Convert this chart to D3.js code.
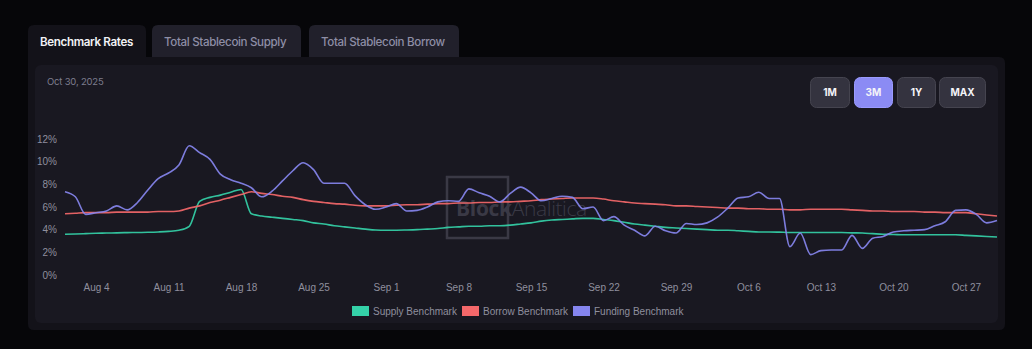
<!DOCTYPE html>
<html>
<head>
<meta charset="utf-8">
<script src="https://cdn.jsdelivr.net/npm/d3@7/dist/d3.min.js"></script>
<style>
  html, body { margin: 0; padding: 0; background: #060609; }
  svg { display: block; }
</style>
</head>
<body>
<svg id="chart" width="1032" height="349"></svg>
<script>
// Daily benchmark rates, Aug 1 – Oct 30, 2025 (percent)
const startDate = new Date(2025, 7, 1);

const supplyBenchmark = [
  3.60, 3.62, 3.65, 3.68, 3.70, 3.72, 3.74, 3.75, 3.77, 3.80,
  3.85, 3.95, 4.30, 6.50, 6.85, 7.05, 7.30, 7.55, 5.40, 5.20,
  5.10, 5.00, 4.90, 4.80, 4.60, 4.50, 4.35, 4.25, 4.15, 4.05,
  3.97, 3.95, 3.95, 3.97, 4.00, 4.05, 4.10, 4.20, 4.25, 4.30,
  4.30, 4.35, 4.35, 4.40, 4.50, 4.60, 4.75, 4.85, 4.90, 4.95,
  5.00, 5.00, 4.90, 4.80, 4.65, 4.50, 4.40, 4.30, 4.20, 4.15,
  4.10, 4.05, 4.00, 3.95, 3.95, 3.90, 3.85, 3.80, 3.80, 3.78,
  3.75, 3.75, 3.75, 3.75, 3.75, 3.75, 3.72, 3.70, 3.65, 3.60,
  3.58, 3.55, 3.55, 3.55, 3.55, 3.55, 3.55, 3.50, 3.45, 3.40,
  3.35
];

const borrowBenchmark = [
  5.40, 5.45, 5.50, 5.50, 5.50, 5.55, 5.55, 5.55, 5.55, 5.60,
  5.60, 5.65, 5.90, 6.10, 6.40, 6.60, 6.85, 7.10, 7.35, 7.20,
  7.10, 6.95, 6.85, 6.65, 6.50, 6.40, 6.30, 6.25, 6.15, 6.10,
  6.10, 6.10, 6.15, 6.20, 6.20, 6.25, 6.30, 6.30, 6.35, 6.35,
  6.40, 6.40, 6.45, 6.45, 6.50, 6.55, 6.65, 6.70, 6.75, 6.80,
  6.80, 6.80, 6.70, 6.55, 6.45, 6.35, 6.30, 6.25, 6.20, 6.10,
  6.10, 6.05, 6.00, 5.95, 5.90, 5.90, 5.85, 5.85, 5.80, 5.80,
  5.75, 5.75, 5.80, 5.80, 5.80, 5.80, 5.75, 5.70, 5.65, 5.65,
  5.60, 5.60, 5.60, 5.55, 5.55, 5.50, 5.50, 5.50, 5.40, 5.30,
  5.20
];

const fundingBenchmark = [
  7.35, 6.90, 5.35, 5.50, 5.65, 6.10, 5.75, 6.40, 7.50, 8.50,
  9.00, 9.70, 11.40, 10.80, 10.20, 8.90, 8.40, 8.10, 7.70, 6.90,
  7.40, 8.30, 9.20, 9.90, 9.30, 8.10, 8.10, 8.10, 7.00, 6.20,
  5.80, 6.00, 6.30, 5.65, 5.70, 6.00, 6.45, 6.55, 6.50, 7.60,
  7.25, 6.95, 6.45, 7.20, 7.75, 7.25, 6.55, 6.75, 6.95, 6.85,
  5.85, 6.00, 4.80, 5.15, 4.40, 3.95, 3.45, 4.30, 3.90, 3.70,
  4.55, 4.45, 4.60, 5.10, 5.90, 6.80, 6.90, 7.30, 6.75, 6.75,
  2.50, 3.70, 1.80, 2.15, 2.20, 2.20, 3.50, 2.35, 3.25, 3.40,
  3.80, 3.90, 3.95, 4.00, 4.35, 4.70, 5.70, 5.75, 5.35, 4.60,
  4.80
];

const seriesNames = ["Supply Benchmark", "Borrow Benchmark", "Funding Benchmark"];
const seriesColors = ["#34d1a8", "#f4686a", "#8585ee"];
const yTicks = [0, 2, 4, 6, 8, 10, 12];
const tabLabels = ["Benchmark Rates", "Total Stablecoin Supply", "Total Stablecoin Borrow"];
const rangeButtons = ["1M", "3M", "1Y", "MAX"];
const activeRange = "3M";
const headerDate = "Oct 30, 2025";

const dayMs = 24 * 3600 * 1000;
const dates = supplyBenchmark.map((_, i) => new Date(startDate.getTime() + i * dayMs));
const series = [supplyBenchmark, borrowBenchmark, fundingBenchmark];

const svg = d3.select("#chart");
const uiFont = "Inter, 'Open Sans', sans-serif";
const axisFont = "'Liberation Sans', Arial, sans-serif";

// ---- tabs ----
const tabX = [28, 152, 309];
const tabW = [118, 149, 150];
tabLabels.forEach((t, i) => {
  const active = i === 0;
  svg.append("path")
    .attr("d", `M${tabX[i]},58 V${31} Q${tabX[i]},25 ${tabX[i] + 6},25 H${tabX[i] + tabW[i] - 6} Q${tabX[i] + tabW[i]},25 ${tabX[i] + tabW[i]},31 V58 Z`)
    .attr("fill", active ? "#131219" : "#21202b");
  svg.append("text")
    .attr("x", tabX[i] + 12).attr("y", 46)
    .attr("font-family", uiFont)
    .attr("font-size", 11.6)
    .attr("font-weight", active ? 600 : 500)
    .attr("letter-spacing", -0.35)
    .attr("fill", active ? "#f2f2f6" : "#8e8ea6")
    .text(t);
});

// ---- panel and card ----
svg.append("path")
  .attr("d", "M28,57 H999 Q1005,57 1005,63 V324 Q1005,330 999,330 H34 Q28,330 28,324 Z")
  .attr("fill", "#131219");
svg.append("rect")
  .attr("x", 35).attr("y", 65).attr("width", 963).attr("height", 258)
  .attr("rx", 6)
  .attr("fill", "#191821");

svg.append("text")
  .attr("x", 47).attr("y", 85)
  .attr("font-family", uiFont).attr("font-size", 9.5)
  .attr("fill", "#7d7d8e")
  .attr("letter-spacing", -0.2)
  .text(headerDate);

// ---- range buttons ----
const btnX = [810, 854, 897, 939];
const btnW = [40, 39, 39, 47];
rangeButtons.forEach((b, i) => {
  const active = b === activeRange;
  svg.append("rect")
    .attr("x", btnX[i] + 0.5).attr("y", 77.5)
    .attr("width", btnW[i] - 1).attr("height", 30)
    .attr("rx", 6)
    .attr("fill", active ? "#8b8bf4" : "#34333f")
    .attr("stroke", active ? "#9b9bff" : "#45444f");
  svg.append("text")
    .attr("x", btnX[i] + btnW[i] / 2).attr("y", 96)
    .attr("text-anchor", "middle")
    .attr("font-family", uiFont).attr("font-size", 10)
    .attr("font-weight", 700)
    .attr("fill", "#f4f4f8")
    .text(b);
});

// ---- scales ----
const x = d3.scaleTime()
  .domain([dates[0], dates[dates.length - 1]])
  .range([65, 997]);
const y = d3.scaleLinear().domain([0, 12]).range([275, 139]);

// ---- watermark ----
const wm = svg.append("g").attr("opacity", 0.35);
wm.append("rect")
  .attr("x", 447).attr("y", 177).attr("width", 61).attr("height", 61)
  .attr("fill", "none").attr("stroke", "#77778a").attr("stroke-width", 2.5);
const wmText = wm.append("text")
  .attr("x", 456).attr("y", 216)
  .attr("font-family", "'Open Sans', 'Noto Sans', sans-serif")
  .attr("font-size", 21)
  .attr("fill", "#77778a");
wmText.append("tspan").attr("font-weight", 700).attr("letter-spacing", -0.3).text("Block");
wmText.append("tspan").attr("font-weight", 300).attr("letter-spacing", -0.4).text("Analitica");

// ---- axes ----
const yAxis = svg.append("g")
  .attr("transform", "translate(57,0)")
  .call(d3.axisLeft(y).tickValues(yTicks).tickSize(0).tickPadding(0).tickFormat(d => d + "%"));
yAxis.select(".domain").remove();
yAxis.selectAll("text")
  .attr("font-family", axisFont).attr("font-size", 10)
  .attr("fill", "#8f8f9e");

const xTickDates = d3.timeDay.range(new Date(2025, 7, 4), new Date(2025, 9, 31), 7);
const xAxis = svg.append("g")
  .attr("transform", "translate(0,284)")
  .call(d3.axisBottom(x).tickValues(xTickDates).tickSize(0).tickPadding(0).tickFormat(d3.timeFormat("%b %-d")));
xAxis.select(".domain").remove();
xAxis.selectAll("text")
  .attr("font-family", axisFont).attr("font-size", 10)
  .attr("fill", "#8f8f9e");

// ---- lines ----
const line = d3.line()
  .x((d, i) => x(dates[i]))
  .y(d => y(d))
  .curve(d3.curveMonotoneX);

series.forEach((s, k) => {
  svg.append("path")
    .datum(s)
    .attr("d", line)
    .attr("fill", "none")
    .attr("stroke", seriesColors[k])
    .attr("stroke-width", 1.6)
    .attr("stroke-linejoin", "round")
    .attr("opacity", 0.92);
});

// ---- legend ----
const legendX = [352, 462, 573];
seriesNames.forEach((n, i) => {
  svg.append("rect")
    .attr("x", legendX[i]).attr("y", 306)
    .attr("width", 17).attr("height", 10)
    .attr("fill", seriesColors[i]);
  svg.append("text")
    .attr("x", legendX[i] + 21).attr("y", 314.5)
    .attr("font-family", axisFont).attr("font-size", 10)
    .attr("fill", "#8f8f9e")
    .text(n);
});
</script>
</body>
</html>
